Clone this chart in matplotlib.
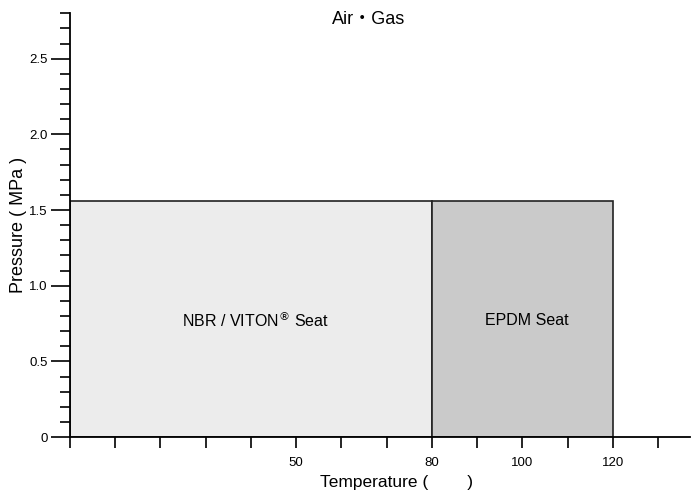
import matplotlib.pyplot as plt
from matplotlib.patches import Rectangle
from matplotlib.ticker import MultipleLocator, FixedLocator, FixedFormatter

plt.rcParams['font.family'] = ['Liberation Sans', 'DejaVu Sans']

# seat ranges: (label, T min, T max, max pressure, colour)
seats = ['NBR / VITON$^{®}$ Seat', 'EPDM Seat']
t_min = [0, 80]
t_max = [80, 120]
p_max = [1.56, 1.56]
colors = ['#ececec', '#cacaca']

xticks = [50, 80, 100, 120]
yticks = [0, 0.5, 1.0, 1.5, 2.0, 2.5]
ylabels = ['0', '0.5', '1.0', '1.5', '2.0', '2.5']

fig = plt.figure(figsize=(6.94, 4.90), dpi=100)
ax = fig.add_axes([0.1009, 0.108, 0.893, 0.865])

for lab, a, b, p, c in zip(seats, t_min, t_max, p_max, colors):
    ax.add_patch(Rectangle((a, 0), b - a, p, facecolor=c, edgecolor='#222222', lw=1.2))
    ax.text((a + b) / 2 + 1, 0.77, lab, ha='center', va='center', fontsize=11.5)

ax.set_xlim(0, 137)
ax.set_ylim(0, 2.8)

ax.spines['top'].set_visible(False)
ax.spines['right'].set_visible(False)
ax.spines['left'].set_linewidth(1.3)
ax.spines['bottom'].set_linewidth(1.3)

ax.xaxis.set_major_locator(FixedLocator(xticks))
ax.xaxis.set_minor_locator(MultipleLocator(10))
ax.yaxis.set_major_locator(FixedLocator(yticks))
ax.yaxis.set_major_formatter(FixedFormatter(ylabels))
ax.yaxis.set_minor_locator(MultipleLocator(0.1))

ax.tick_params(axis='x', which='both', direction='out', length=8, width=1.2, labelsize=9.5, pad=6)
ax.tick_params(axis='y', which='major', direction='out', length=14, width=1.2, labelsize=9.5, pad=2)
ax.tick_params(axis='y', which='minor', direction='out', length=7, width=1.2)

fig.text(320 / 694, 1 - 482 / 490, 'Temperature (        )', ha='left', va='center', fontsize=12.5)
ax.set_ylabel('Pressure ( MPa )', fontsize=13, labelpad=2)

ax.text(66, 2.76, 'Air・Gas', ha='center', va='center', fontsize=13,
        family=['Liberation Sans', 'Noto Sans CJK JP', 'DejaVu Sans'])

fig.savefig('out.png', dpi=100)
